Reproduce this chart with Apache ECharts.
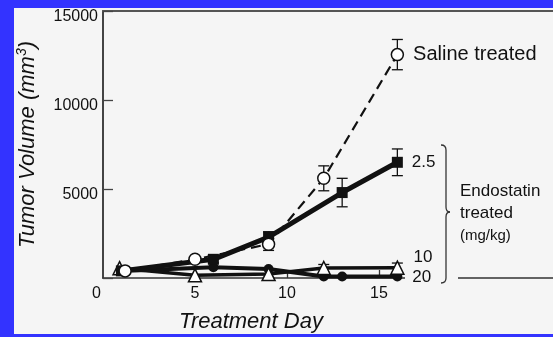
<!DOCTYPE html>
<html><head><meta charset="utf-8">
<script src="https://cdn.jsdelivr.net/npm/echarts@6/dist/echarts.min.js"></script>
<style>
html,body{margin:0;padding:0;background:#3333ff;width:553px;height:337px;overflow:hidden;}
#c{position:absolute;left:14px;top:8px;width:539px;height:326px;}
</style></head>
<body><div id="c"></div>
<script>
// ---- data ----
const xTickLabels = [0, 5, 10, 15];
const yTickLabels = [0, 5000, 10000, 15000];

const salineName = 'Saline treated';
const salineDays = [1.2, 5, 9, 12, 16];
const salineVol  = [400, 1050, 1900, 5600, 12550];
const salineErr  = [0, 0, 350, 700, 850];

const dose25Name = '2.5';
const dose25Days = [1, 6, 9, 13, 16];
const dose25Vol  = [400, 1050, 2300, 4800, 6500];
const dose25Err  = [0, 200, 300, 800, 750];

const dose10Name = '10';
const dose10Days = [0.9, 5, 9, 12, 16];
const dose10Vol  = [550, 150, 220, 560, 580];
const dose10Err  = [0, 0, 0, 200, 260];

const dose20Name = '20';
const dose20Days = [1, 6, 9, 12, 13, 16];
const dose20Vol  = [400, 600, 500, 80, 80, 80];
const dose20Err  = [0, 0, 0, 0, 0, 0];

const groupText = ['Endostatin', 'treated', '(mg/kg)'];
const xTitle = 'Treatment Day';

// ---- build ----
const FONT = '"Liberation Sans", Arial, Helvetica, sans-serif';
const INK = '#111';

function lineData(days, vols, name, labelOpt) {
  return days.map((d, i) => {
    const item = { value: [d, vols[i]] };
    if (i === days.length - 1) {
      item.label = Object.assign({
        show: true, position: 'right', formatter: name,
        color: INK, fontFamily: FONT, fontSize: 17
      }, labelOpt || {});
    }
    return item;
  });
}
function errData(days, vols, errs) {
  const out = [];
  days.forEach((d, i) => { if (errs[i] > 0) out.push([d, vols[i] - errs[i], vols[i] + errs[i]]); });
  return out;
}
function errSeries(data) {
  return {
    type: 'custom', z: 9, silent: true, data: data,
    renderItem: function (params, api) {
      const x = api.value(0);
      const lo = api.coord([x, api.value(1)]);
      const hi = api.coord([x, api.value(2)]);
      const w = 5.5;
      const st = { stroke: INK, lineWidth: 1.3, fill: null };
      return { type: 'group', children: [
        { type: 'line', shape: { x1: lo[0], y1: lo[1], x2: hi[0], y2: hi[1] }, style: st },
        { type: 'line', shape: { x1: lo[0] - w, y1: lo[1], x2: lo[0] + w, y2: lo[1] }, style: st },
        { type: 'line', shape: { x1: hi[0] - w, y1: hi[1], x2: hi[0] + w, y2: hi[1] }, style: st }
      ]};
    }
  };
}

const braceStyle = { stroke: '#333', lineWidth: 1.3, fill: null };
const chart = echarts.init(document.getElementById('c'), null, { renderer: 'canvas' });
const XMAX = 24.46;
chart.setOption({
  animation: false,
  backgroundColor: '#f5f5f5',
  textStyle: { fontFamily: FONT },
  grid: { left: 89, top: 3, right: 0, bottom: 56, containLabel: false, outerBoundsMode: 'none' },
  xAxis: [{
    type: 'value', min: 0, max: XMAX, position: 'bottom',
    axisLine: { show: true, lineStyle: { color: '#333', width: 1.5 } },
    axisTick: { show: true, inside: true, length: 8, customValues: [5, 10, 15], lineStyle: { color: '#333', width: 1.3 } },
    axisLabel: {
      customValues: xTickLabels, margin: 8, fontSize: 16, color: INK, fontFamily: FONT,
      formatter: v => v === 0 ? '0   ' : String(v)
    },
    splitLine: { show: false }
  }, {
    type: 'value', min: 0, max: XMAX, position: 'top',
    axisLine: { show: true, onZero: false, lineStyle: { color: '#555', width: 2 } },
    axisTick: { show: false }, axisLabel: { show: false }, splitLine: { show: false }
  }],
  yAxis: {
    type: 'value', min: yTickLabels[0], max: yTickLabels[yTickLabels.length - 1], interval: 5000,
    axisLine: { show: true, lineStyle: { color: '#444', width: 2 } },
    axisTick: { show: true, inside: true, length: 10, lineStyle: { color: '#444', width: 1.3 } },
    axisLabel: {
      margin: 5, fontSize: 16, color: INK, fontFamily: FONT,
      formatter: v => v === 0 ? '' : '{d|' + v + '}',
      rich: { d: { fontSize: 16, color: INK, fontFamily: FONT, padding: [12, 0, 0, 0] } }
    },
    splitLine: { show: false },
    name: 'Tumor Volume (mm{sup|3})', nameLocation: 'middle', nameRotate: 90, nameGap: 62,
    nameTextStyle: {
      fontSize: 22, fontStyle: 'italic', color: INK, fontFamily: FONT,
      rich: { sup: { fontSize: 14, fontStyle: 'italic', color: INK, fontFamily: FONT, padding: [0, 0, 12, 0] } }
    }
  },
  series: [
    errSeries(errData(salineDays, salineVol, salineErr)),
    errSeries(errData(dose25Days, dose25Vol, dose25Err)),
    errSeries(errData(dose10Days, dose10Vol, dose10Err)),
    errSeries(errData(dose20Days, dose20Vol, dose20Err)),
    {
      type: 'line', z: 10, name: dose20Name, data: lineData(dose20Days, dose20Vol, dose20Name, { distance: 10, offset: [0, 1] }),
      symbol: 'circle', symbolSize: 10,
      lineStyle: { color: INK, width: 4 }, itemStyle: { color: INK }
    },
    {
      type: 'line', z: 10, name: dose10Name, data: lineData(dose10Days, dose10Vol, dose10Name, { distance: 9, offset: [0, -10] }),
      symbol: 'triangle', symbolSize: 13,
      lineStyle: { color: INK, width: 3.5 }, itemStyle: { color: '#fff', borderColor: INK, borderWidth: 1.5 }
    },
    {
      type: 'line', z: 11, name: dose25Name, data: lineData(dose25Days, dose25Vol, dose25Name, { distance: 9 }),
      symbol: 'rect', symbolSize: 11,
      lineStyle: { color: INK, width: 5 }, itemStyle: { color: INK }
    },
    {
      type: 'line', z: 12, name: salineName, data: lineData(salineDays, salineVol, salineName, { distance: 9, fontSize: 20 }),
      symbol: 'circle', symbolSize: 12,
      lineStyle: { color: INK, width: 2.2, type: [10, 6] }, itemStyle: { color: '#fff', borderColor: INK, borderWidth: 1.5 }
    }
  ],
  graphic: [
    { type: 'rect', z: 5, silent: true, shape: { x: 391, y: 264, width: 53, height: 12 }, style: { fill: '#f5f5f5' } },
    { type: 'bezierCurve', z: 6, silent: true, shape: { x1: 427, y1: 137, x2: 432, y2: 142, cpx1: 432, cpy1: 137 }, style: braceStyle },
    { type: 'line', z: 6, silent: true, shape: { x1: 432, y1: 142, x2: 432, y2: 199 }, style: braceStyle },
    { type: 'bezierCurve', z: 6, silent: true, shape: { x1: 432, y1: 199, x2: 436, y2: 204, cpx1: 432, cpy1: 204 }, style: braceStyle },
    { type: 'bezierCurve', z: 6, silent: true, shape: { x1: 436, y1: 204, x2: 432, y2: 209, cpx1: 432, cpy1: 204 }, style: braceStyle },
    { type: 'line', z: 6, silent: true, shape: { x1: 432, y1: 209, x2: 432, y2: 270 }, style: braceStyle },
    { type: 'bezierCurve', z: 6, silent: true, shape: { x1: 432, y1: 270, x2: 427, y2: 275, cpx1: 432, cpy1: 275 }, style: braceStyle },
    { type: 'text', z: 6, left: 446, top: 175, style: { text: groupText[0], fontSize: 17, fontFamily: FONT, fill: INK } },
    { type: 'text', z: 6, left: 446, top: 197, style: { text: groupText[1], fontSize: 17, fontFamily: FONT, fill: INK } },
    { type: 'text', z: 6, left: 446, top: 220, style: { text: groupText[2], fontSize: 15, fontFamily: FONT, fill: INK } },
    { type: 'text', z: 6, x: 237, y: 314, style: { text: xTitle, fontSize: 22, fontStyle: 'italic', fontFamily: FONT, fill: INK, align: 'center', verticalAlign: 'middle' } }
  ]
});
</script></body></html>
